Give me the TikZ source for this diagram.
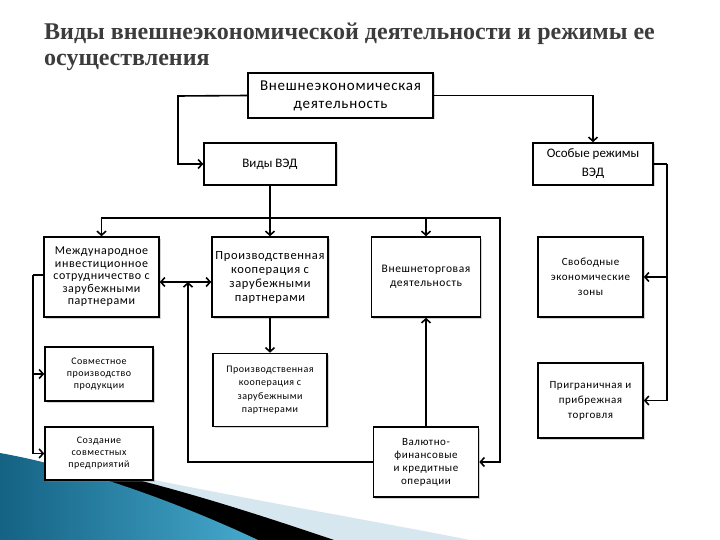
\documentclass[tikz,border=0pt]{standalone}
\usepackage{fontspec}
\setmainfont{Carlito}
\newfontfamily\wideCarlito{Carlito}[LetterSpace=5]
\newfontfamily\titlefont{Liberation Serif}
\usepackage{tikz}
\usetikzlibrary{arrows.meta,shadows,positioning,calc}
\definecolor{titleGray}{RGB}{60,60,60}
\definecolor{swooshDark}{RGB}{20,98,132}
\definecolor{swooshLight}{RGB}{70,170,205}
\definecolor{swooshPale}{RGB}{205,225,235}

\begin{document}
\begin{tikzpicture}[
        x=1pt, y=-1pt,
        box/.style={draw, line width=1.6pt, fill=white, align=center, inner sep=0pt,
          drop shadow={shadow xshift=1.5pt, shadow yshift=-1.5pt, opacity=.35},
          font=\wideCarlito\fontsize{11.5}{14}\selectfont},
        smallbox/.style={box, font=\wideCarlito\fontsize{10}{12}\selectfont},
        arr/.style={line width=1.6pt, -{Straight Barb[length=4pt, width=9pt]}},
        ln/.style={line width=1.6pt},
        ttl/.style={font=\titlefont\bfseries\fontsize{24}{26}\selectfont, text=titleGray,
          anchor=base west, inner sep=0pt},
      ]
        \useasboundingbox (0,0) rectangle (720,540);

        % swoosh in the corner
        \fill[swooshPale, opacity=.8] (110,471) .. controls (250,500) and (380,522) .. (470,540)
          -- (320,540) .. controls (250,515) and (170,490) .. (110,471) -- cycle;
        \fill[black] (60,462) .. controls (160,482) and (260,515) .. (334,540)
          -- (255,540) .. controls (180,510) and (110,485) .. (40,466) -- cycle;
        \shade[left color=swooshDark, right color=swooshLight]
          (0,453) .. controls (90,469) and (190,508) .. (258,540) -- (0,540) -- cycle;

        % title
        \node[ttl] (title1) at (44,40) {Виды внешнеэкономической деятельности и режимы ее};
        \node[ttl] (title2) at (44,66) {осуществления};

        % top level
        \node[box, font=\wideCarlito\fontsize{15}{20}\selectfont, minimum width=185, minimum height=45]
          (ved) at (340.5,95.5) {\raisebox{-2pt}{Внешнеэкономическая}\\деятельность};
        \node[box, font=\fontsize{13}{18}\selectfont, minimum width=132, minimum height=42]
          (vidy) at (270,164) {Виды ВЭД};
        \node[box, font=\fontsize{13}{19}\selectfont, minimum width=120, minimum height=42]
          (osob) at (593,164) {Особые режимы\\ВЭД};

        % kinds
        \node[box, font=\wideCarlito\fontsize{12}{12.5}\selectfont, minimum width=115, minimum height=80]
          (mezh) at (101.5,277) {Международное\\инвестиционное\\сотрудничество с\\зарубежными\\партнерами};
        \node[box, font=\wideCarlito\fontsize{12.5}{14}\selectfont, minimum width=116, minimum height=80]
          (proizv) at (270,277) {Производственная\\кооперация с\\зарубежными\\партнерами};
        \node[box, minimum width=109, minimum height=80] (vnesh) at (426,277) {Внешнеторговая\\деятельность};
        \node[box, font=\wideCarlito\fontsize{11}{15}\selectfont, minimum width=105, minimum height=80]
          (svob) at (590.5,277) {Свободные\\экономические\\зоны};

        % lower row
        \node[smallbox, minimum width=108, minimum height=54] (sovm) at (99,374) {Совместное\\производство\\продукции};
        \node[smallbox, minimum width=108, minimum height=53] (sozd) at (99,453.5) {Создание\\совместных\\предприятий};
        \node[smallbox, font=\wideCarlito\fontsize{10}{13.5}\selectfont, minimum width=114, minimum height=73]
          (proizv2) at (270,390) {Производственная\\кооперация с\\зарубежными\\партнерами};
        \node[box, font=\wideCarlito\fontsize{11}{13}\selectfont, minimum width=105, minimum height=70]
          (valut) at (426,462) {Валютно-\\финансовые\\и кредитные\\операции};
        \node[box, font=\wideCarlito\fontsize{11}{15}\selectfont, minimum width=105, minimum height=75]
          (prigr) at (590.5,400.5) {Приграничная и\\прибрежная\\торговля};

        % bends of the lines
        \coordinate (topL) at (178,96);
        \coordinate (bus) at (270,218);
        \coordinate (busR) at (500,218);
        \coordinate (jn) at (188,282);
        \coordinate (lb) at (33,275);
        \coordinate (rb) at (667,164);

        % from the top box
        \draw[arr] (ved.west) -- (topL) |- (vidy.west);
        \draw[arr] (ved.east) -| (osob.north);

        % bus under Vidy VED
        \draw[arr] (vidy.south) -- (proizv.north);
        \draw[arr] (bus) -| (mezh.north);
        \draw[arr] (bus) -| (vnesh.north);
        \draw[arr] (bus) -- (busR) |- (valut.east);
        \draw[arr] (valut.north) -- (vnesh.south);
        \draw[arr] (proizv.south) -- (proizv2.north);

        % double arrow and the line from below
        \draw[ln, {Straight Barb[length=4pt, width=9pt]}-{Straight Barb[length=4pt, width=9pt]}]
          (mezh.east |- jn) -- (proizv.west |- jn);
        \draw[arr] (valut.west) -| (jn);

        % left branch
        \draw[ln] (mezh.west |- lb) -- (lb);
        \draw[arr] (lb) |- (sovm.west);
        \draw[arr] (lb) |- (sozd.west);

        % right branch
        \draw[ln] (osob.east) -- (rb);
        \draw[arr] (rb) |- (svob.east);
        \draw[arr] (rb) |- (prigr.east);
      \end{tikzpicture}
\end{document}
